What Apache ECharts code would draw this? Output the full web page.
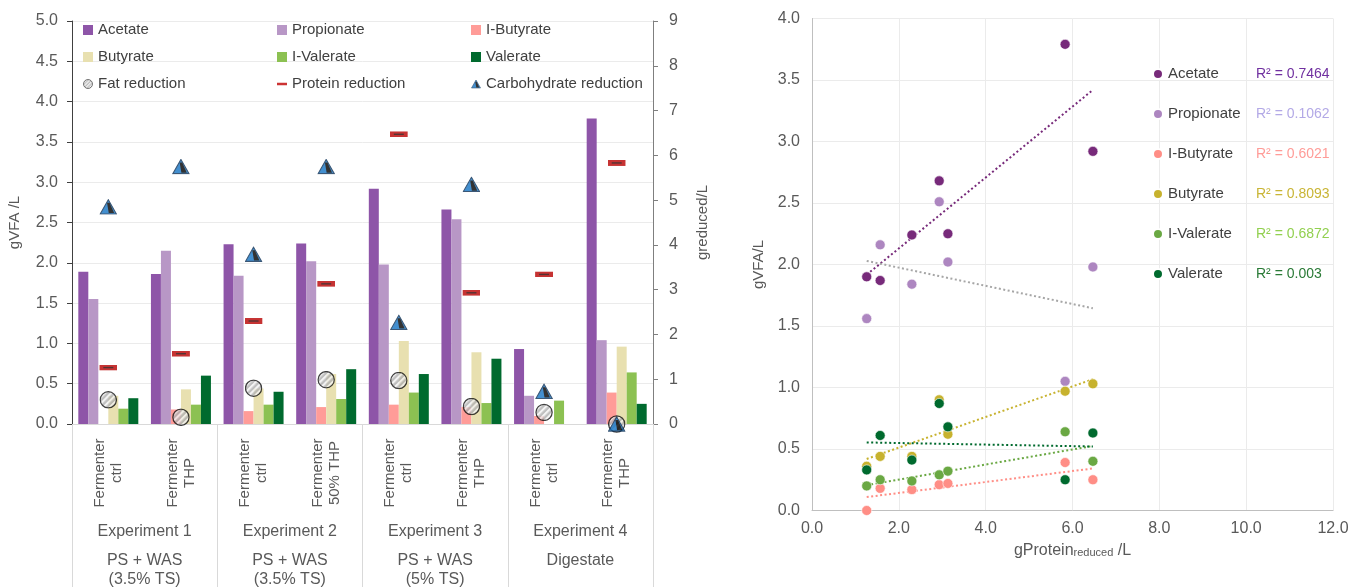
<!DOCTYPE html>
<html>
<head>
<meta charset="utf-8">
<script src="https://cdn.jsdelivr.net/npm/echarts@6/dist/echarts.min.js"></script>
<style>
  html, body { margin: 0; padding: 0; background: #fff; width: 1353px; height: 587px; overflow: hidden; }
  #left { position: absolute; left: 0; top: 0; width: 730px; height: 587px; }
  #right { position: absolute; left: 705px; top: 0; width: 648px; height: 587px; }
</style>
</head>
<body>
<div id="left"></div>
<div id="right"></div>
<script>
// ---- Bar chart data (gVFA/L per fermenter run) ----
const conditions = ['Fermenter\nctrl', 'Fermenter\nTHP', 'Fermenter\nctrl', 'Fermenter\n50% THP',
                    'Fermenter\nctrl', 'Fermenter\nTHP', 'Fermenter\nctrl', 'Fermenter\nTHP'];
const experiments = ['Experiment 1', 'Experiment 2', 'Experiment 3', 'Experiment 4'];
const substrates = ['PS + WAS\n(3.5% TS)', 'PS + WAS\n(3.5% TS)', 'PS + WAS\n(5% TS)', 'Digestate'];

const acetate    = [1.89, 1.86, 2.23, 2.24, 2.92, 2.66, 0.93, 3.79];
const propionate = [1.55, 2.15, 1.84, 2.02, 1.98, 2.54, 0.35, 1.04];
const iButyrate  = [0.00, 0.18, 0.16, 0.21, 0.24, 0.21, 0.10, 0.39];
const butyrate   = [0.35, 0.43, 0.44, 0.62, 1.03, 0.89, 0.00, 0.96];
const iValerate  = [0.19, 0.24, 0.24, 0.31, 0.39, 0.26, 0.29, 0.64];
const valerate   = [0.32, 0.60, 0.40, 0.68, 0.62, 0.81, 0.00, 0.25];

// reductions (g reduced / L, secondary axis)
const fatReduction     = [0.54, 0.15, 0.80, 0.99, 0.97, 0.39, 0.26, 0.00];
const proteinReduction = [1.26, 1.57, 2.30, 3.13, 6.47, 2.93, 3.34, 5.83];
const carbReduction    = [4.85, 5.75, 3.79, 5.75, 2.27, 5.35, 0.73, 0.00];

// ---- Scatter data (VFA vs protein reduced) ----
const proteinReduced = [1.26, 1.57, 2.30, 2.93, 3.13, 5.83, 6.47];
const scAcetate    = [1.90, 1.87, 2.24, 2.68, 2.25, 3.79, 2.92];
const scPropionate = [1.56, 2.16, 1.84, 2.51, 2.02, 1.05, 1.98];
const scIButyrate  = [0.00, 0.18, 0.17, 0.21, 0.22, 0.39, 0.25];
const scButyrate   = [0.36, 0.44, 0.44, 0.90, 0.62, 0.97, 1.03];
const scIValerate  = [0.20, 0.25, 0.24, 0.29, 0.32, 0.64, 0.40];
const scValerate   = [0.33, 0.61, 0.41, 0.87, 0.68, 0.25, 0.63];
const rSquared = ['0.7464', '0.1062', '0.6021', '0.8093', '0.6872', '0.003'];

const vfaNames = ['Acetate', 'Propionate', 'I-Butyrate', 'Butyrate', 'I-Valerate', 'Valerate'];

// ---- styling ----
const FONT = '"Liberation Sans", Arial, sans-serif';
const TXT = '#595959';
const barColors = ['#8e55a8', '#b897c6', '#ff9c98', '#e8e0b0', '#8cc152', '#006a2e'];
const dotColors = ['#772a7a', '#ad86c0', '#ff8e86', '#c7b22e', '#6aa843', '#006a2e'];
const trendColors = ['#772a7a', '#a6a6a6', '#ff8e86', '#c7b22e', '#6aa843', '#006a2e'];
const r2Colors = ['#7030a0', '#b3a9e6', '#ff9c98', '#c9b536', '#92d050', '#2a7a36'];

function svgUrl(svg) {
  return 'image://data:image/svg+xml;charset=utf-8,' + encodeURIComponent(svg);
}
const hatch = '<defs><pattern id="p" width="5" height="5" patternUnits="userSpaceOnUse" patternTransform="rotate(45)">' +
  '<rect width="5" height="5" fill="#b0b0b0"/><rect width="2.4" height="5" fill="#f2f2f2"/></pattern></defs>';
const fatSymbol = svgUrl('<svg xmlns="http://www.w3.org/2000/svg" width="20" height="20" viewBox="0 0 20 20">' + hatch +
  '<circle cx="10" cy="10" r="9" fill="url(#p)" stroke="#111" stroke-width="1.4"/></svg>');
const carbSymbol = svgUrl('<svg xmlns="http://www.w3.org/2000/svg" width="20" height="18" viewBox="0 0 20 18">' +
  '<polygon points="10,1 19,17 1,17" fill="#1574c4" stroke="#0b2f55" stroke-width="1.2"/>' +
  '<polygon points="8.6,4.5 11.4,4.5 16.5,16 10.5,16" fill="#000"/></svg>');
const proteinSymbol = svgUrl('<svg xmlns="http://www.w3.org/2000/svg" width="18" height="6" viewBox="0 0 18 6">' +
  '<rect x="0" y="0" width="18" height="6" fill="#b80000"/>' +
  '<rect x="4" y="2.3" width="10" height="1.4" fill="#2a0000"/></svg>');
const proteinIcon = svgUrl('<svg xmlns="http://www.w3.org/2000/svg" width="12" height="12" viewBox="0 0 12 12">' +
  '<rect x="0" y="4.5" width="12" height="3" fill="#c00000"/></svg>');
const carbIcon = svgUrl('<svg xmlns="http://www.w3.org/2000/svg" width="12" height="12" viewBox="0 0 20 20">' +
  '<polygon points="10,2 19,18 1,18" fill="#1574c4" stroke="#0b2f55" stroke-width="1.2"/>' +
  '<polygon points="8.6,5.5 11.4,5.5 16.5,17 10.5,17" fill="#000"/></svg>');

// ---------------- left: bar chart ----------------
const leftChart = echarts.init(document.getElementById('left'), null, { renderer: 'canvas' });
const barValues = [acetate, propionate, iButyrate, butyrate, iValerate, valerate];

const legendBase = {
  orient: 'vertical', top: 16.5, itemWidth: 10, itemHeight: 10, itemGap: 10,
  textStyle: { fontFamily: FONT, fontSize: 15, color: '#404040', lineHeight: 17 },
  selectedMode: false
};

leftChart.setOption({
  animation: false,
  textStyle: { fontFamily: FONT },
  grid: { left: 72, top: 21, width: 581, height: 403, outerBoundsMode: 'none' },
  legend: [
    Object.assign({}, legendBase, { left: 78, data: [
      { name: 'Acetate', icon: 'rect' }, { name: 'Butyrate', icon: 'rect' }, { name: 'Fat reduction', icon: fatSymbol }] }),
    Object.assign({}, legendBase, { left: 272, data: [
      { name: 'Propionate', icon: 'rect' }, { name: 'I-Valerate', icon: 'rect' }, { name: 'Protein reduction', icon: proteinIcon }] }),
    Object.assign({}, legendBase, { left: 466, data: [
      { name: 'I-Butyrate', icon: 'rect' }, { name: 'Valerate', icon: 'rect' }, { name: 'Carbohydrate reduction', icon: carbIcon }] })
  ],
  xAxis: [
    {
      type: 'category', data: conditions, position: 'bottom',
      axisLine: { lineStyle: { color: '#d9d9d9', width: 1 } },
      axisTick: { show: false },
      axisLabel: {
        interval: 0, rotate: 90, margin: 49, align: 'center', verticalAlign: 'middle',
        fontSize: 15, lineHeight: 17, color: TXT, fontFamily: FONT
      }
    },
    {
      type: 'category', data: experiments, position: 'bottom',
      axisLine: { show: false },
      axisTick: { show: true, interval: 0, length: 163, lineStyle: { color: '#d9d9d9' } },
      axisLabel: {
        interval: 0, margin: 88,
        formatter: function (v, i) {
          const sub = substrates[i].split('\n').map(s => '{s|' + s + '}').join('\n');
          return '{e|' + v + '}\n' + sub;
        },
        rich: {
          e: { fontSize: 16, color: TXT, lineHeight: 39, fontFamily: FONT },
          s: { fontSize: 16, color: TXT, lineHeight: 19, fontFamily: FONT }
        }
      }
    }
  ],
  yAxis: [
    {
      type: 'value', min: 0, max: 5, interval: 0.5,
      axisLine: { show: true, lineStyle: { color: '#404040' } },
      axisTick: { show: true, length: 5, lineStyle: { color: '#404040' } },
      axisLabel: { formatter: v => v.toFixed(1), fontSize: 16, color: TXT, margin: 14, fontFamily: FONT },
      splitLine: { lineStyle: { color: '#ebebeb' } },
      name: 'gVFA /L', nameLocation: 'middle', nameGap: 50, nameRotate: 90,
      nameTextStyle: { fontSize: 15, color: TXT, fontFamily: FONT }
    },
    {
      type: 'value', min: 0, max: 9, interval: 1, position: 'right',
      axisLine: { show: true, lineStyle: { color: '#7f7f7f' } },
      axisTick: { show: true, length: 5, lineStyle: { color: '#7f7f7f' } },
      axisLabel: { fontSize: 16, color: TXT, margin: 16, fontFamily: FONT },
      splitLine: { show: false },
      name: 'greduced/L', nameLocation: 'middle', nameGap: 42, nameRotate: 90,
      nameTextStyle: { fontSize: 15, color: TXT, fontFamily: FONT }
    }
  ],
  series: barValues.map((d, i) => ({
    name: vfaNames[i], type: 'bar', data: d, barWidth: 10, barGap: '0%',
    xAxisIndex: 0, yAxisIndex: 0, itemStyle: { color: barColors[i] }, z: 2
  })).concat([
    { name: 'Fat reduction', type: 'scatter', data: fatReduction, xAxisIndex: 0, yAxisIndex: 1,
      symbol: fatSymbol, symbolSize: 18, z: 5 },
    { name: 'Protein reduction', type: 'scatter', data: proteinReduction, xAxisIndex: 0, yAxisIndex: 1,
      symbol: proteinSymbol, symbolSize: [18, 6], z: 6 },
    { name: 'Carbohydrate reduction', type: 'scatter', data: carbReduction, xAxisIndex: 0, yAxisIndex: 1,
      symbol: carbSymbol, symbolSize: [18, 16], z: 7 }
  ])
});

// ---------------- right: scatter with linear trendlines ----------------
const rightChart = echarts.init(document.getElementById('right'), null, { renderer: 'canvas' });
const scValues = [scAcetate, scPropionate, scIButyrate, scButyrate, scIValerate, scValerate];

// least-squares line through each VFA's points, spanning the observed x range
function trend(xs, ys) {
  const n = xs.length;
  const mx = xs.reduce((a, b) => a + b, 0) / n;
  const my = ys.reduce((a, b) => a + b, 0) / n;
  let sxy = 0, sxx = 0;
  for (let i = 0; i < n; i++) { sxy += (xs[i] - mx) * (ys[i] - my); sxx += (xs[i] - mx) ** 2; }
  const k = sxy / sxx, b = my - k * mx;
  const x0 = Math.min(...xs), x1 = Math.max(...xs);
  return [[x0, k * x0 + b], [x1, k * x1 + b]];
}

const legendRich = { n: { width: 88, fontSize: 15, color: '#404040', fontFamily: FONT, lineHeight: 20 } };
rSquared.forEach((r, i) => {
  legendRich['r' + i] = { fontSize: 14, color: r2Colors[i], fontFamily: FONT, lineHeight: 20 };
});

rightChart.setOption({
  animation: false,
  textStyle: { fontFamily: FONT },
  grid: { left: 107, top: 18.5, width: 521, height: 492, outerBoundsMode: 'none' },
  legend: {
    orient: 'vertical', left: 442, top: 59, itemWidth: 10, itemHeight: 10, itemGap: 20,
    icon: 'circle', selectedMode: false, data: vfaNames,
    formatter: name => {
      const i = vfaNames.indexOf(name);
      return '{n|' + name + '}{r' + i + '|R² = ' + rSquared[i] + '}';
    },
    textStyle: { lineHeight: 20, rich: legendRich }
  },
  xAxis: {
    type: 'value', min: 0, max: 12, interval: 2,
    axisLine: { show: true, lineStyle: { color: '#bfbfbf' } },
    axisTick: { show: false },
    axisLabel: { formatter: v => v.toFixed(1), fontSize: 16, color: TXT, margin: 10, fontFamily: FONT },
    splitLine: { show: true, lineStyle: { color: '#ebebeb' } },
    name: '{a|gProtein}{b|reduced}{a| /L}', nameLocation: 'middle', nameGap: 28,
    nameTextStyle: {
      rich: {
        a: { fontSize: 16, color: TXT, fontFamily: FONT, verticalAlign: 'bottom', lineHeight: 20 },
        b: { fontSize: 11, color: TXT, fontFamily: FONT, verticalAlign: 'bottom', lineHeight: 14 }
      }
    }
  },
  yAxis: {
    type: 'value', min: 0, max: 4, interval: 0.5,
    axisLine: { show: true, lineStyle: { color: '#bfbfbf' } },
    axisTick: { show: false },
    axisLabel: { formatter: v => v.toFixed(1), fontSize: 16, color: TXT, margin: 12, fontFamily: FONT },
    splitLine: { show: true, lineStyle: { color: '#ebebeb' } },
    name: 'gVFA/L', nameLocation: 'middle', nameGap: 36, nameRotate: 90,
    nameTextStyle: { fontSize: 15, color: TXT, fontFamily: FONT }
  },
  series: scValues.map((d, i) => ({
    name: vfaNames[i], type: 'scatter', symbolSize: 10,
    data: proteinReduced.map((x, j) => [x, d[j]]),
    itemStyle: { color: dotColors[i], borderColor: '#ffffff', borderWidth: 0.6, opacity: 1 },
    z: 3
  })).concat(scValues.map((d, i) => ({
    name: vfaNames[i] + ' trend', type: 'line', data: trend(proteinReduced, d),
    symbol: 'none', silent: true, z: 2,
    lineStyle: { color: trendColors[i], width: 2, type: [2, 2.5] }
  })))
});
</script>
</body>
</html>
